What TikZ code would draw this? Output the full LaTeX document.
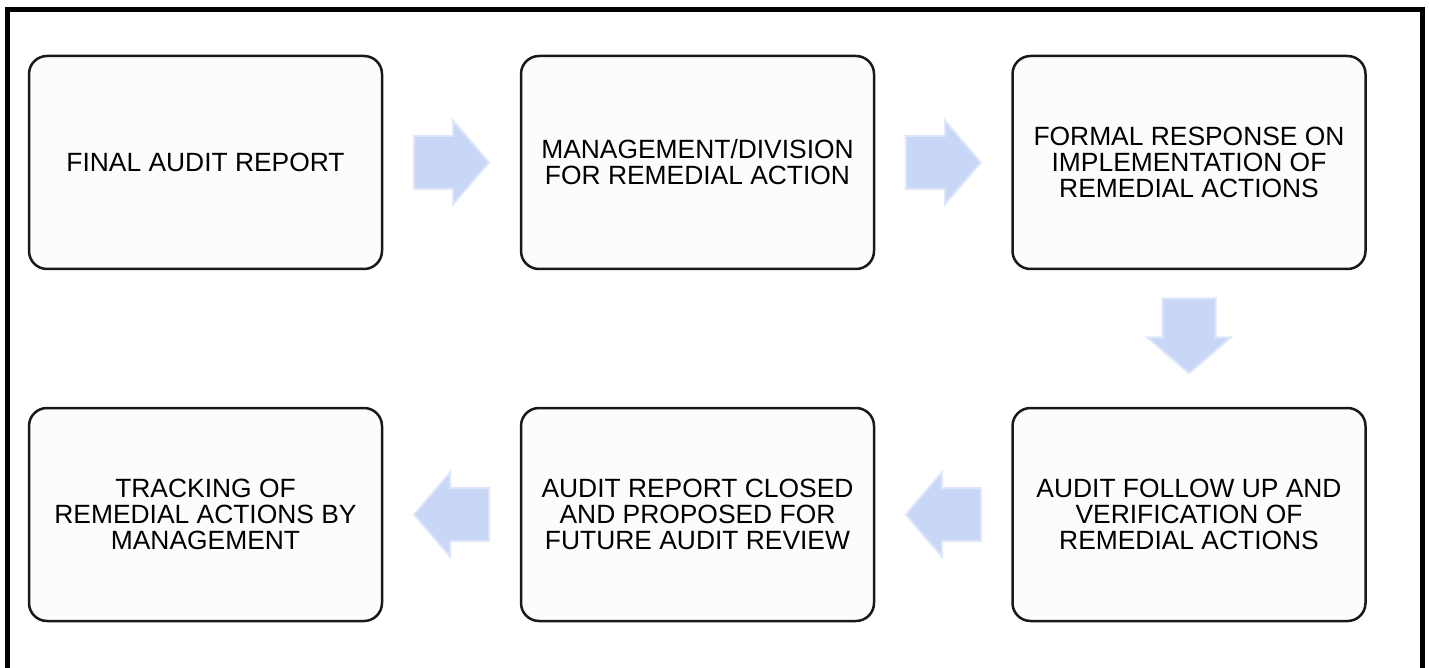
\documentclass[tikz,border=0pt]{standalone}
\usepackage{fontspec}
\setmainfont{Liberation Sans}
\definecolor{boxfill}{RGB}{253,251,253}
\definecolor{arrowfill}{RGB}{200,215,246}
\definecolor{arrowedge}{RGB}{222,230,250}
\definecolor{boxline}{RGB}{25,25,25}
\begin{document}
\begin{tikzpicture}[x=1pt,y=-1pt,
  stepbox/.style={draw=boxline, fill=boxfill, line width=2.5pt, rounded corners=18pt,
    minimum width=353pt, minimum height=213pt, align=center,
    font=\fontsize{26.4}{26}\selectfont, inner sep=0pt},
  blockarrow/.pic={\path[fill=arrowfill, draw=arrowedge, line width=2pt, line join=miter]
    (-37.5,-26.5) -- (1.5,-26.5) -- (1.5,-42) -- (37.5,0) -- (1.5,42) -- (1.5,26.5) -- (-37.5,26.5) -- cycle;}]
\useasboundingbox (0,0) rectangle (1429,668);
\draw[line width=5pt] (7.5,720) -- (7.5,9.5) -- (1422.5,9.5) -- (1422.5,720);
\node[stepbox] (b1) at (205.5,162.5) {FINAL AUDIT REPORT};
\node[stepbox] (b2) at (697.5,162.5) {MANAGEMENT/DIVISION\\FOR REMEDIAL ACTION};
\node[stepbox] (b3) at (1189,162.5) {FORMAL RESPONSE ON\\IMPLEMENTATION OF\\REMEDIAL ACTIONS};
\node[stepbox] (b4) at (1189,514.5) {AUDIT FOLLOW UP AND\\VERIFICATION OF\\REMEDIAL ACTIONS};
\node[stepbox] (b5) at (697.5,514.5) {AUDIT REPORT CLOSED\\AND PROPOSED FOR\\FUTURE AUDIT REVIEW};
\node[stepbox] (b6) at (205.5,514.5) {TRACKING OF\\REMEDIAL ACTIONS BY\\MANAGEMENT};
\path (b1.east) -- (b2.west) coordinate[midway] (a12);
\path (b2.east) -- (b3.west) coordinate[midway] (a23);
\path (b3.south) -- (b4.north) coordinate[pos=0.48] (a34);
\path (b4.west) -- (b5.east) coordinate[midway] (a45);
\path (b5.west) -- (b6.east) coordinate[midway] (a56);
\pic at (a12) {blockarrow};
\pic at (a23) {blockarrow};
\pic[rotate=-90] at (a34) {blockarrow};
\pic[rotate=180] at (a45) {blockarrow};
\pic[rotate=180] at (a56) {blockarrow};
\end{tikzpicture}
\end{document}
